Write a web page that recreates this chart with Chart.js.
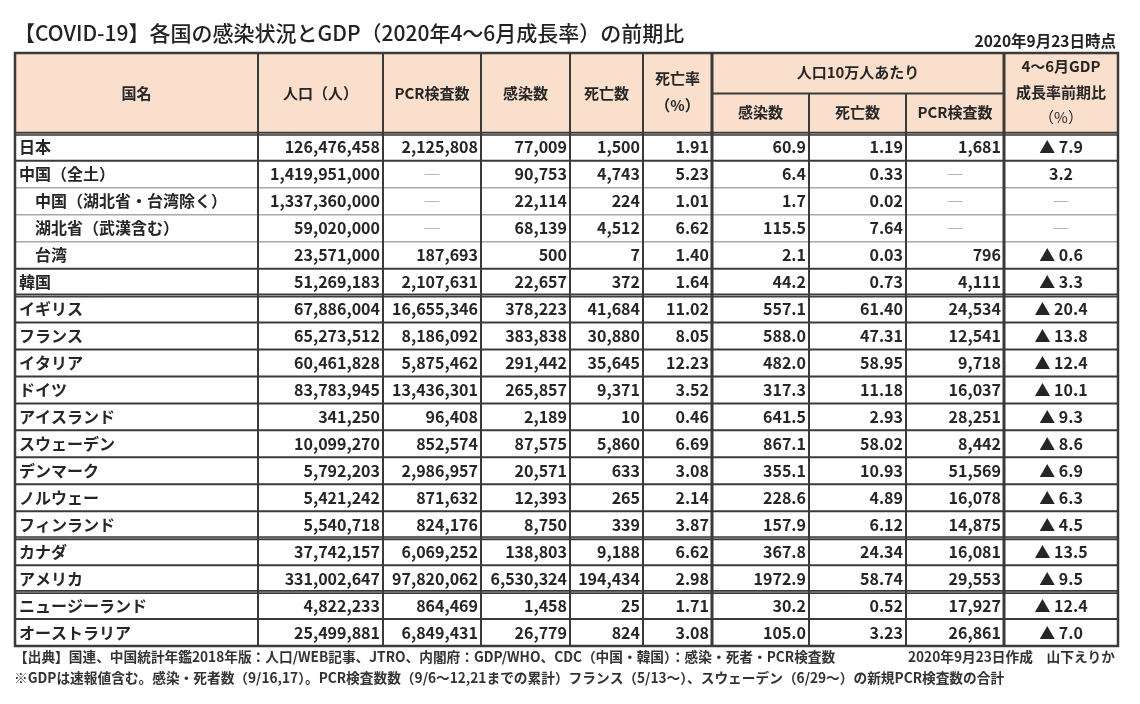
<!DOCTYPE html>
<html lang="ja">
<head>
<meta charset="utf-8">
<title>COVID-19 各国の感染状況とGDP</title>
<script src="https://cdn.jsdelivr.net/npm/chart.js@4.4.1/dist/chart.umd.min.js"></script>
<style>
  html, body { margin: 0; padding: 0; background: #fff; }
  canvas { display: block; }
</style>
</head>
<body>
<canvas id="table" width="1140" height="704"></canvas>
<script>
// ---- データ（2020年9月23日時点） ----
const countries = ['日本', '中国（全土）', '中国（湖北省・台湾除く）', '湖北省（武漢含む）', '台湾', '韓国',
  'イギリス', 'フランス', 'イタリア', 'ドイツ', 'アイスランド', 'スウェーデン', 'デンマーク', 'ノルウェー', 'フィンランド',
  'カナダ', 'アメリカ', 'ニュージーランド', 'オーストラリア'];
const population = [126476458, 1419951000, 1337360000, 59020000, 23571000, 51269183,
  67886004, 65273512, 60461828, 83783945, 341250, 10099270, 5792203, 5421242, 5540718,
  37742157, 331002647, 4822233, 25499881];
const pcrTests = [2125808, null, null, null, 187693, 2107631,
  16655346, 8186092, 5875462, 13436301, 96408, 852574, 2986957, 871632, 824176,
  6069252, 97820062, 864469, 6849431];
const infections = [77009, 90753, 22114, 68139, 500, 22657,
  378223, 383838, 291442, 265857, 2189, 87575, 20571, 12393, 8750,
  138803, 6530324, 1458, 26779];
const deaths = [1500, 4743, 224, 4512, 7, 372,
  41684, 30880, 35645, 9371, 10, 5860, 633, 265, 339,
  9188, 194434, 25, 824];
const deathRate = [1.91, 5.23, 1.01, 6.62, 1.40, 1.64,
  11.02, 8.05, 12.23, 3.52, 0.46, 6.69, 3.08, 2.14, 3.87,
  6.62, 2.98, 1.71, 3.08];
const infPer100k = [60.9, 6.4, 1.7, 115.5, 2.1, 44.2,
  557.1, 588.0, 482.0, 317.3, 641.5, 867.1, 355.1, 228.6, 157.9,
  367.8, 1972.9, 30.2, 105.0];
const deathsPer100k = [1.19, 0.33, 0.02, 7.64, 0.03, 0.73,
  61.40, 47.31, 58.95, 11.18, 2.93, 58.02, 10.93, 4.89, 6.12,
  24.34, 58.74, 0.52, 3.23];
const pcrPer100k = [1681, null, null, null, 796, 4111,
  24534, 12541, 9718, 16037, 28251, 8442, 51569, 16078, 14875,
  16081, 29553, 17927, 26861];
// ▲ はマイナス
const gdpGrowth = [-7.9, 3.2, null, null, -0.6, -3.3,
  -20.4, -13.8, -12.4, -10.1, -9.3, -8.6, -6.9, -6.3, -4.5,
  -13.5, -9.5, -12.4, -7.0];

const subRegionRows = [2, 3, 4];      // 字下げする行
const lightRuleAfter = [1, 2, 3];     // 薄い罫線
const groupEnds = [5, 14, 16];        // 太い罫線（地域の区切り）

const headerLabels = ['国名', '人口（人）', 'PCR検査数', '感染数', '死亡数', ['死亡率', '（%）']];
const per100kTitle = '人口10万人あたり';
const per100kLabels = ['感染数', '死亡数', 'PCR検査数'];
const gdpLabel = ['4～6月GDP', '成長率前期比', '（%）'];

const titleText = '【COVID-19】各国の感染状況とGDP（2020年4～6月成長率）の前期比';
const asOfText = '2020年9月23日時点';
const sourceText = '【出典】国連、中国統計年鑑2018年版：人口/WEB記事、JTRO、内閣府：GDP/WHO、CDC（中国・韓国）：感染・死者・PCR検査数';
const authorText = '2020年9月23日作成　山下えりか';
const noteText = '※GDPは速報値含む。感染・死者数（9/16,17）。PCR検査数数（9/6～12,21までの累計）フランス（5/13～）、スウェーデン（6/29～）の新規PCR検査数の合計';

// ---- レイアウト（表の列の境界, x軸の単位） ----
const colEdges = [0, 243, 368, 466, 555, 628, 697, 794, 891, 989, 1103];
const headerUnits = 3; // ヘッダーの高さ（行単位）
const FONT = '"Noto Sans CJK JP", "Noto Sans", sans-serif';

const fmtInt = v => v.toLocaleString('en-US');
const columns = [
  { values: population, fmt: fmtInt },
  { values: pcrTests, fmt: fmtInt },
  { values: infections, fmt: fmtInt },
  { values: deaths, fmt: fmtInt },
  { values: deathRate, fmt: v => v.toFixed(2) },
  { values: infPer100k, fmt: v => v.toFixed(1) },
  { values: deathsPer100k, fmt: v => v.toFixed(2) },
  { values: pcrPer100k, fmt: fmtInt },
  { values: gdpGrowth, fmt: v => (v < 0 ? '▲ ' : '') + Math.abs(v).toFixed(1), center: true }
];

// セル（点）を作る：x = 列の中心 or 右端, y = 行の中心
const cells = [];
countries.forEach((name, r) => {
  const y = headerUnits + r + 0.5;
  cells.push({ x: colEdges[0], y, text: name, kind: 'name', indent: subRegionRows.includes(r) });
  columns.forEach((col, c) => {
    const v = col.values[r];
    const mid = (colEdges[c + 1] + colEdges[c + 2]) / 2;
    if (v === null) {
      cells.push({ x: mid, y, text: '─', kind: 'dash' });
    } else if (col.center) {
      cells.push({ x: mid, y, text: col.fmt(v), kind: 'center' });
    } else {
      cells.push({ x: colEdges[c + 2], y, text: col.fmt(v), kind: 'right' });
    }
  });
});

const tablePlugin = {
  id: 'tablePlugin',
  beforeDatasetsDraw(chart) {
    const { ctx, scales: { x, y } } = chart;
    const px = v => x.getPixelForValue(v);
    const py = v => y.getPixelForValue(v);
    const left = px(colEdges[0]), right = px(colEdges[colEdges.length - 1]);
    const top = py(0), bottom = py(headerUnits + countries.length);

    ctx.save();
    // ヘッダー背景
    ctx.fillStyle = '#fadfcd';
    ctx.fillRect(left, top, right - left, py(headerUnits) - top);

    const hline = (yy, x0, x1, w, color) => {
      ctx.beginPath();
      ctx.lineWidth = w;
      ctx.strokeStyle = color;
      ctx.moveTo(x0, yy);
      ctx.lineTo(x1, yy);
      ctx.stroke();
    };
    const vline = (xx, y0, y1, w, color) => {
      ctx.beginPath();
      ctx.lineWidth = w;
      ctx.strokeStyle = color;
      ctx.moveTo(xx, y0);
      ctx.lineTo(xx, y1);
      ctx.stroke();
    };

    // 横罫線
    for (let r = 0; r < countries.length - 1; r++) {
      const yy = py(headerUnits + r + 1);
      if (groupEnds.includes(r)) {
        hline(yy, left, right, 4, '#3a3a3a');
        hline(yy, left, right, 1, '#9a9a9a');
      } else if (lightRuleAfter.includes(r)) {
        hline(yy, left, right, 1.5, '#a8a8a8');
      } else {
        hline(yy, left, right, 2, '#3a3a3a');
      }
    }
    // ヘッダー下
    hline(py(headerUnits), left, right, 4, '#3a3a3a');
    hline(py(headerUnits), left, right, 1, '#9a9a9a');
    // 人口10万人あたり の下線
    hline(py(1.5), px(colEdges[6]), px(colEdges[9]), 2, '#3a3a3a');

    // 縦罫線
    for (let c = 1; c < colEdges.length - 1; c++) {
      const xx = px(colEdges[c]);
      const y0 = (c === 7 || c === 8) ? py(1.5) : top;
      vline(xx, y0, bottom, (c === 6 || c === 9) ? 3 : 2, '#3a3a3a');
    }
    // 外枠
    ctx.lineWidth = 2.5;
    ctx.strokeStyle = '#3a3a3a';
    ctx.strokeRect(left, top, right - left, bottom - top);
    ctx.restore();
  },
  afterDatasetsDraw(chart) {
    const { ctx, scales: { x, y } } = chart;
    const px = v => x.getPixelForValue(v);
    const py = v => y.getPixelForValue(v);
    ctx.save();
    ctx.textBaseline = 'middle';
    ctx.fillStyle = '#262626';

    // ヘッダー文字
    ctx.font = 'bold 15px ' + FONT;
    ctx.textAlign = 'center';
    headerLabels.forEach((lab, c) => {
      const cx = px((colEdges[c] + colEdges[c + 1]) / 2);
      if (Array.isArray(lab)) {
        ctx.fillText(lab[0], cx, py(0.93));
        ctx.fillText(lab[1], cx, py(1.95));
      } else {
        ctx.fillText(lab, cx, py(1.5));
      }
    });
    ctx.fillText(per100kTitle, px((colEdges[6] + colEdges[9]) / 2), py(0.72));
    per100kLabels.forEach((lab, i) => {
      ctx.fillText(lab, px((colEdges[6 + i] + colEdges[7 + i]) / 2), py(2.2));
    });
    const gx = px((colEdges[9] + colEdges[10]) / 2);
    ctx.fillText(gdpLabel[0], gx, py(0.5));
    ctx.fillText(gdpLabel[1], gx, py(1.45));
    ctx.font = '15px ' + FONT;
    ctx.fillText(gdpLabel[2], gx, py(2.4));

    // セルの文字（データ点の位置に描く）
    const meta = chart.getDatasetMeta(0);
    meta.data.forEach((pt, i) => {
      const cell = chart.data.datasets[0].data[i];
      if (cell.kind === 'dash') {
        ctx.font = '15px ' + FONT;
        ctx.fillStyle = '#8a8a8a';
        ctx.textAlign = 'center';
        ctx.fillText(cell.text, pt.x, pt.y);
        ctx.fillStyle = '#262626';
        return;
      }
      ctx.font = 'bold 16px ' + FONT;
      if (cell.kind === 'name') {
        ctx.textAlign = 'left';
        ctx.fillText(cell.text, pt.x + (cell.indent ? 20 : 4), pt.y);
      } else if (cell.kind === 'center') {
        ctx.textAlign = 'center';
        ctx.fillText(cell.text, pt.x, pt.y);
      } else {
        ctx.textAlign = 'right';
        ctx.fillText(cell.text, pt.x - 3, pt.y);
      }
    });

    // タイトル・注記
    ctx.fillStyle = '#222';
    ctx.textAlign = 'left';
    ctx.font = '500 21px ' + FONT;
    ctx.fillText(titleText, 14, 33);
    ctx.textAlign = 'right';
    ctx.font = 'bold 15.5px ' + FONT;
    ctx.fillText(asOfText, 1116, 41);

    ctx.fillStyle = '#333';
    ctx.font = 'bold 13.7px ' + FONT;
    ctx.textAlign = 'left';
    ctx.fillText(sourceText, 14, 657);
    ctx.fillText(noteText, 14, 678);
    ctx.textAlign = 'right';
    ctx.fillText(authorText, 1115, 657);
    ctx.restore();
  }
};

new Chart(document.getElementById('table'), {
  type: 'scatter',
  data: {
    datasets: [{
      data: cells,
      pointRadius: 0,
      pointHoverRadius: 0,
      backgroundColor: 'transparent'
    }]
  },
  options: {
    responsive: false,
    animation: false,
    layout: { padding: { left: 15, right: 22, top: 53, bottom: 58 } },
    scales: {
      x: { type: 'linear', min: colEdges[0], max: colEdges[colEdges.length - 1], display: false },
      y: { type: 'linear', min: 0, max: headerUnits + countries.length, reverse: true, display: false }
    },
    plugins: {
      legend: { display: false },
      tooltip: { enabled: false }
    }
  },
  plugins: [tablePlugin]
});
</script>
</body>
</html>
